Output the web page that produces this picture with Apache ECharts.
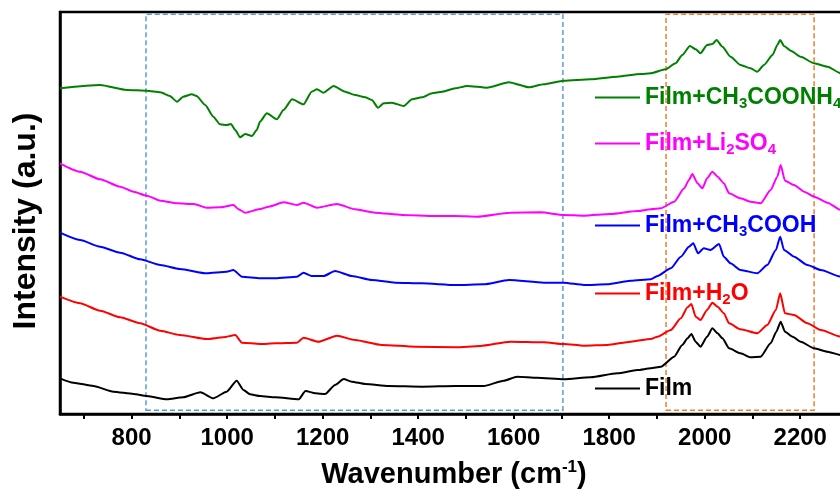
<!DOCTYPE html>
<html>
<head>
<meta charset="utf-8">
<script src="https://cdn.jsdelivr.net/npm/echarts@6/dist/echarts.min.js"></script>
<style>
  html, body { margin: 0; padding: 0; background: #fff; }
  #chart { width: 840px; height: 490px; }
</style>
</head>
<body>
<div id="chart"></div>
<script>
// Raman-style spectra, offset vertically (arbitrary intensity units).
// Each series: [wavenumber (cm^-1), intensity]
const film = [
  [650,33.7],[678,29.3],[720,26],[762,20.3],[804,18],[832,16],[874,12.7],[908,14.7],
  [944,19.7],[971,13.7],[999,20.3],[1020,31.3],[1034,22],[1048,17.7],[1069,16],[1101,14.7],
  [1150,12.7],[1164,21],[1185,18.7],[1205,18],[1226,27],[1244,33],[1261,30.3],[1289,28],
  [1338,26],[1408,25.3],[1478,26],[1537,26],[1579,31.3],[1607,35.3],[1649,34.3],[1705,32.7],
  [1761,34.7],[1817,38.7],[1859,42],[1887,43.7],[1908,45.3],[1936,55.3],[1953,67],[1964,73.7],
  [1972,78],[1981,70.3],[1991,65.3],[2005,75.3],[2016,83.7],[2027,78.7],[2037,73.7],[2051,63.7],
  [2075,58.7],[2096,54.7],[2117,55.3],[2138,68.7],[2150,80.3],[2159,90.3],[2168,80.3],[2184,75.3],
  [2201,70.3],[2229,63.7],[2257,60.3],[2285,57],[2300,56]
];
const filmH2O = [
  [650,115.3],[692,108.7],[734,101.3],[776,94.7],[818,88.7],[860,81.3],[901,77],[957,73],
  [992,74.7],[1017,77],[1031,69.3],[1069,68],[1101,68.7],[1146,69.3],[1160,74.3],[1191,70.3],
  [1230,76.3],[1268,72],[1324,67],[1394,65.3],[1478,64.7],[1530,66],[1593,70.3],[1663,69.7],
  [1705,68],[1747,66.3],[1796,67],[1845,70.3],[1887,73],[1901,75.3],[1929,82],[1950,93.7],
  [1964,104.7],[1972,108],[1981,95.3],[1991,92],[2005,102],[2016,109.3],[2027,105.3],[2040,98.7],
  [2051,88.7],[2075,82.7],[2110,78.7],[2131,87],[2149,102],[2158,118.7],[2168,98.7],[2187,97],
  [2215,88.7],[2243,82],[2285,75.3],[2300,74]
];
const filmCH3COOH = [
  [650,179.3],[692,172],[734,165.3],[776,159.3],[818,152.7],[860,147],[901,143],[957,138.7],
  [999,140.3],[1013,142],[1031,135.3],[1069,133.7],[1101,133.7],[1146,135.3],[1160,139.3],[1177,136],
  [1202,136],[1226,141],[1261,136],[1303,132],[1352,129.3],[1408,128.7],[1478,127],[1537,127.7],
  [1590,132],[1663,129.3],[1705,129.3],[1747,127],[1796,127.7],[1845,131.3],[1887,132.7],[1901,136],
  [1929,143.7],[1950,155.3],[1967,165.3],[1976,168.7],[1986,158.7],[1998,163.7],[2012,162],[2030,168],
  [2040,155.3],[2054,148.7],[2075,142],[2110,138.7],[2131,147],[2149,162],[2158,175.3],[2166,162],
  [2187,155.3],[2215,147],[2243,142],[2285,135.3],[2300,134]
];
const filmLi2SO4 = [
  [650,248.7],[692,240.3],[734,232.7],[776,225.3],[804,220.3],[832,216.3],[860,211.3],[895,208.7],
  [930,208],[957,204.3],[985,204.7],[1013,207],[1024,202.7],[1038,199.3],[1069,203],[1087,205.3],
  [1118,209.7],[1146,207],[1160,209.3],[1188,204.3],[1230,208],[1268,202.7],[1310,199.3],[1366,197],
  [1436,196],[1478,196],[1523,195.3],[1593,199.3],[1656,199.7],[1705,197],[1747,196.3],[1803,198],
  [1859,201],[1887,202.7],[1908,203.7],[1936,210.3],[1957,223.7],[1967,232],[1974,238],[1985,228.7],
  [1995,223.7],[2005,233.7],[2016,240.3],[2027,235.3],[2040,228.7],[2051,218.7],[2075,213.7],[2096,210.3],
  [2117,208.7],[2138,222],[2152,235.3],[2159,247],[2168,231.3],[2187,227],[2208,220.3],[2229,215.3],
  [2257,209.3],[2285,202],[2300,200]
];
const filmCH3COONH4 = [
  [650,323.7],[734,327],[790,322],[832,321.3],[860,319.7],[880,316],[895,310.3],[908,315.3],
  [926,317.7],[936,316],[954,307],[971,295.3],[985,287.7],[999,287],[1008,288],[1017,282],
  [1027,274.7],[1038,278],[1052,276],[1062,282],[1069,290.5],[1083,298.7],[1104,292.7],[1118,302],
  [1136,312.7],[1160,307.7],[1177,320.3],[1188,322.7],[1202,319.3],[1223,326],[1247,320.3],[1268,317],
  [1289,314.7],[1303,312],[1316,304.3],[1328,308.7],[1345,309.3],[1370,306],[1387,312.7],[1408,314.7],
  [1429,318.7],[1450,320.3],[1478,323.7],[1502,326],[1544,324.3],[1590,329.7],[1632,324.7],[1663,327.7],
  [1705,331.3],[1761,332.7],[1817,335.3],[1866,338],[1887,338.7],[1918,342.7],[1939,348.7],[1953,357],
  [1969,366],[1981,362.7],[1991,358.7],[2005,367],[2016,368],[2025,372],[2037,365.3],[2054,355.3],
  [2075,347],[2096,343.7],[2110,340.3],[2124,347],[2142,357],[2152,367],[2158,372],[2166,366],
  [2180,361.3],[2201,355.3],[2229,348.7],[2257,345.3],[2285,338.7],[2300,337]
];

const seriesNames = ['Film', 'Film+H2O', 'Film+CH3COOH', 'Film+Li2SO4', 'Film+CH3COONH4'];
const seriesData = [film, filmH2O, filmCH3COOH, filmLi2SO4, filmCH3COONH4];
const seriesColors = ['#000000', '#ff0000', '#0000ff', '#ff00ff', '#008000'];
// Legend labels with chemical subscripts (rich text)
const legendLabels = [
  '{t|Film}',
  '{t|Film+H}{s|2}{t|O}',
  '{t|Film+CH}{s|3}{t|COOH}',
  '{t|Film+Li}{s|2}{t|SO}{s|4}',
  '{t|Film+CH}{s|3}{t|COONH}{s|4}'
];
const legendTops = [377, 280, 212, 130, 84];

// Highlighted spectral windows (cm^-1)
const blueWindow = [830, 1703];
const orangeWindow = [1919, 2229];

const xTickValues = [700,800,900,1000,1100,1200,1300,1400,1500,1600,1700,1800,1900,2000,2100,2200,2300];
const xLabelValues = [800,1000,1200,1400,1600,1800,2000,2200];

const FONT = 'Arial, "Liberation Sans", Helvetica, sans-serif';

const chart = echarts.init(document.getElementById('chart'), null, { renderer: 'canvas' });

const series = seriesData.map((d, i) => ({
  name: seriesNames[i],
  type: 'line',
  data: d,
  showSymbol: false,
  symbol: 'none',
  smooth: 0.2,
  smoothMonotone: 'x',
  silent: true,
  z: 3,
  lineStyle: { color: seriesColors[i], width: 2 },
  itemStyle: { color: seriesColors[i] }
}));

// Dashed boxes marking the two regions
series.push({
  type: 'line',
  data: [],
  silent: true,
  z: 1,
  markArea: {
    silent: true,
    data: [
      [
        { xAxis: blueWindow[0], yAxis: 1.8, itemStyle: { color: 'transparent', borderColor: '#5b9bd5', borderWidth: 1.5, borderType: [5, 3] } },
        { xAxis: blueWindow[1], yAxis: 397.8 }
      ],
      [
        { xAxis: orangeWindow[0], yAxis: 1.8, itemStyle: { color: 'transparent', borderColor: '#ed7d31', borderWidth: 1.5, borderType: [5, 3] } },
        { xAxis: orangeWindow[1], yAxis: 397.8 }
      ]
    ]
  }
});

const legends = seriesNames.map((name, i) => ({
  data: [name],
  left: 595,
  top: legendTops[i],
  padding: 0,
  itemWidth: 45,
  itemHeight: 2,
  itemGap: 5,
  icon: 'rect',
  selectedMode: false,
  formatter: () => legendLabels[i],
  textStyle: {
    color: seriesColors[i],
    rich: {
      t: { fontFamily: FONT, fontWeight: 'bold', fontSize: 23, color: seriesColors[i], lineHeight: 27 },
      s: { fontFamily: FONT, fontWeight: 'bold', fontSize: 15, color: seriesColors[i], lineHeight: 27, padding: [12, 0, 0, 0] }
    }
  }
}));

chart.setOption({
  animation: false,
  backgroundColor: '#ffffff',
  grid: {
    left: 60, top: 12, width: 788, bottom: 76,
    containLabel: false,
    outerBoundsMode: 'none',
    show: true, borderColor: '#000', borderWidth: 2.5, backgroundColor: 'transparent'
  },
  legend: legends,
  xAxis: {
    type: 'value',
    min: 650,
    max: 2300,
    name: '{b|Wavenumber (cm}{p|-1}{b|)}',
    nameLocation: 'middle',
    nameGap: 45,
    nameTextStyle: {
      rich: {
        b: { fontFamily: FONT, fontWeight: 'bold', fontSize: 29, color: '#000', lineHeight: 32 },
        p: { fontFamily: FONT, fontWeight: 'bold', fontSize: 17, color: '#000', lineHeight: 32, padding: [0, 0, 15, 0] }
      }
    },
    axisLine: { onZero: false, lineStyle: { color: '#000', width: 2.5 } },
    axisTick: { show: true, inside: false, length: 5, customValues: xTickValues, lineStyle: { color: '#000', width: 2 } },
    axisLabel: {
      customValues: xLabelValues,
      formatter: (v) => String(v),
      margin: 12,
      fontFamily: FONT, fontWeight: 'bold', fontSize: 24, color: '#000'
    },
    splitLine: { show: false }
  },
  yAxis: {
    type: 'value',
    min: -2,
    max: 400,
    name: 'Intensity (a.u.)',
    nameLocation: 'middle',
    nameGap: 18,
    nameTextStyle: { fontFamily: FONT, fontWeight: 'bold', fontSize: 32, color: '#000', padding: [0, 16, 0, 0] },
    axisLine: { show: true, lineStyle: { color: '#000', width: 2.5 } },
    axisTick: { show: false },
    axisLabel: { show: false },
    splitLine: { show: false }
  },
  series: series
});
</script>
</body>
</html>
